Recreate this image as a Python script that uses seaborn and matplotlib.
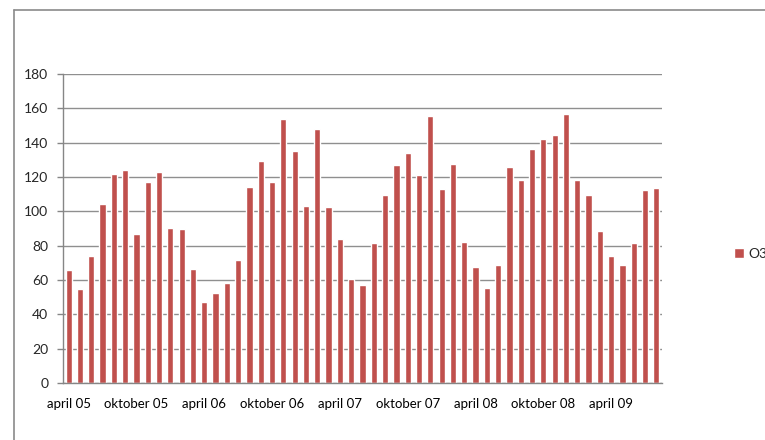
import matplotlib
matplotlib.use("Agg")
import matplotlib.pyplot as plt
import seaborn as sns
import pandas as pd
from matplotlib.lines import Line2D

# Monthly O3 values, april 2005 - august 2009
months = [str(p) for p in pd.period_range("2005-04", "2009-08", freq="M")]
o3 = [66, 55, 74, 104.5, 122, 123.8, 87, 116.8, 123.2, 90.4, 89.9, 66.5,
      47.2, 52.4, 58.3, 71.7, 114.4, 129.6, 116.8, 153.6, 134.9, 103.3, 147.8, 102.7,
      84, 60.6, 57.1, 81.7, 109.7, 126.7, 133.7, 120.9, 155.4, 113.3, 127.3, 82.3,
      67.6, 55.4, 68.8, 126.1, 118.5, 136.6, 141.9, 144.2, 156.5, 118.5, 109.7, 88.7,
      74, 68.8, 81.7, 112.7, 113.8]
tick_labels = ["april 05", "oktober 05", "april 06", "oktober 06", "april 07",
               "oktober 07", "april 08", "oktober 08", "april 09"]
series_name = "O3"

df = pd.DataFrame({"month": months, "value": o3})

sns.set_style("white")
plt.rcParams["font.family"] = ["Lato", "DejaVu Sans"]

fig = plt.figure(figsize=(7.65, 4.4), dpi=100)
ax = fig.add_axes([63 / 765, 1 - 383 / 440, (662 - 63) / 765, (383 - 74) / 440])

bar_color = "#C0504D"
sns.barplot(data=df, x="month", y="value", color=bar_color, width=0.55,
            saturation=1, ax=ax, label=series_name)

ax.set_xlim(-0.5, len(months) - 0.5)
ax.set_ylim(0, 180)
ax.set_yticks(range(0, 181, 20))
ax.set_xticks(range(0, len(months), 6))
ax.set_xticklabels(tick_labels)
ax.set_xticks([i - 0.5 for i in range(0, len(months), 6)], minor=True)
ax.tick_params(axis="x", which="major", length=0, pad=11, labelsize=9.5, colors="black")
ax.tick_params(axis="x", which="minor", length=4, color="#868686", width=1, direction="out")
ax.tick_params(axis="y", length=4.5, color="#868686", width=1, pad=6, labelsize=10, left=True)
ax.set_xlabel("")
ax.set_ylabel("")

ax.yaxis.grid(True, color="#8f8f8f", linewidth=1)
ax.set_axisbelow(True)
for side in ["top", "right"]:
    ax.spines[side].set_visible(False)
for side in ["left", "bottom"]:
    ax.spines[side].set_color("#868686")
    ax.spines[side].set_linewidth(1)

handles, labels = ax.get_legend_handles_labels()
ax.legend(handles[:1], labels[:1], loc="center left", frameon=False,
          bbox_to_anchor=(734 / 765, 1 - 254 / 440), bbox_transform=fig.transFigure,
          borderpad=0, borderaxespad=0, handlelength=0.75, handleheight=0.75,
          handletextpad=0.3, fontsize=10)

# outer chart frame
fig.add_artist(Line2D([14 / 765, 14 / 765], [0, 1 - 10 / 440], transform=fig.transFigure,
                      color="#8a8a8a", linewidth=1.2))
fig.add_artist(Line2D([14 / 765, 1], [1 - 10 / 440, 1 - 10 / 440], transform=fig.transFigure,
                      color="#8a8a8a", linewidth=1.2))

fig.savefig("out.png", dpi=100)
